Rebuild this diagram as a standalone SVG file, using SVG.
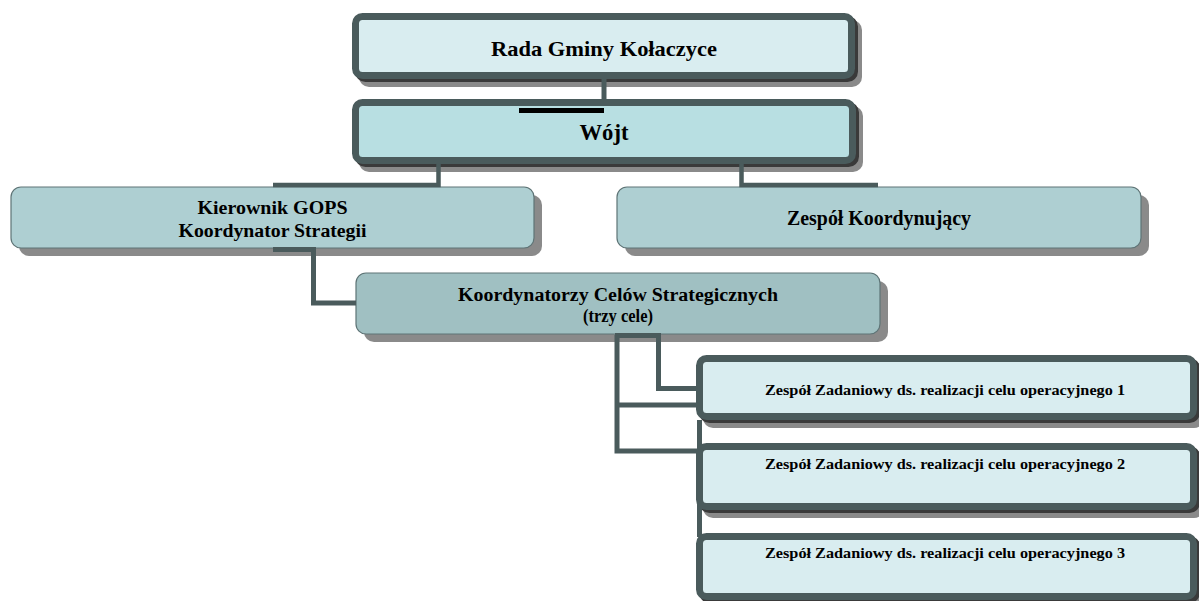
<svg xmlns="http://www.w3.org/2000/svg" width="1199" height="601" viewBox="0 0 1199 601">
<style>
text{font-family:"Liberation Serif","Times New Roman",serif;font-weight:bold;fill:#000;text-anchor:middle}
.thick{stroke:#4a5b5c;stroke-width:7}
.thin{stroke:#5e7476;stroke-width:1.2}
.sh{fill:#8a8a8a}
.shd{fill:none;stroke:#3a3a3a;stroke-width:7}
.c{fill:none;stroke:#4a5b5c;stroke-linejoin:miter}
</style>
<g id="node-rada">
<rect class="sh" x="359" y="20" width="503" height="67" rx="10"/>
<rect class="shd" x="358.5" y="19.5" width="496" height="59" rx="7"/>
<rect class="thick" x="355.5" y="16.5" width="496" height="59" rx="7" fill="#d9edf0"/>
<text x="604" y="56" font-size="21" textLength="226" lengthAdjust="spacingAndGlyphs">Rada Gminy Kołaczyce</text>
</g>
<g id="node-wojt">
<rect class="sh" x="359" y="106" width="504" height="66" rx="10"/>
<rect class="shd" x="358.5" y="105.5" width="497" height="58" rx="7"/>
<rect class="thick" x="355.5" y="102.5" width="497" height="58" rx="7" fill="#b8dfe2"/>
<text x="604" y="140" font-size="23" textLength="49" lengthAdjust="spacingAndGlyphs">Wójt</text>
</g>
<g id="node-kierownik">
<rect class="sh" x="19" y="195" width="523" height="61" rx="10"/>
<rect class="thin" x="11" y="187" width="523" height="61" rx="10" fill="#aecfd2"/>
<text x="272.5" y="214" font-size="18" textLength="150" lengthAdjust="spacingAndGlyphs">Kierownik GOPS</text>
<text x="272.5" y="237" font-size="18" textLength="188" lengthAdjust="spacingAndGlyphs">Koordynator Strategii</text>
</g>
<g id="node-zespol-koord">
<rect class="sh" x="625" y="195" width="524" height="61" rx="10"/>
<rect class="thin" x="617" y="187" width="524" height="61" rx="10" fill="#aecfd2"/>
<text x="879" y="225" font-size="20" textLength="184" lengthAdjust="spacingAndGlyphs">Zespół Koordynujący</text>
</g>
<g id="node-koordynatorzy">
<rect class="sh" x="364" y="281" width="524" height="61" rx="10"/>
<rect class="thin" x="356" y="273" width="524" height="61" rx="10" fill="#a0c0c2"/>
<text x="618" y="301" font-size="18" textLength="320" lengthAdjust="spacingAndGlyphs">Koordynatorzy Celów Strategicznych</text>
<text x="618" y="322" font-size="18" textLength="70" lengthAdjust="spacingAndGlyphs">(trzy cele)</text>
</g>
<g id="node-zespol-1">
<rect class="sh" x="703" y="362" width="501" height="66" rx="10"/>
<rect class="shd" x="702.5" y="361.5" width="494" height="58" rx="7"/>
<rect class="thick" x="699.5" y="358.5" width="494" height="58" rx="7" fill="#d9edf0"/>
<text x="945" y="395" font-size="15" textLength="360" lengthAdjust="spacingAndGlyphs">Zespół Zadaniowy ds. realizacji celu operacyjnego 1</text>
</g>
<g id="node-zespol-2">
<rect class="sh" x="703" y="450" width="501" height="68" rx="10"/>
<rect class="shd" x="702.5" y="449.5" width="494" height="60" rx="7"/>
<rect class="thick" x="699.5" y="446.5" width="494" height="60" rx="7" fill="#d9edf0"/>
<text x="945" y="469" font-size="15" textLength="360" lengthAdjust="spacingAndGlyphs">Zespół Zadaniowy ds. realizacji celu operacyjnego 2</text>
</g>
<g id="node-zespol-3">
<rect class="sh" x="703" y="540" width="501" height="68" rx="10"/>
<rect class="shd" x="702.5" y="539.5" width="494" height="60" rx="7"/>
<rect class="thick" x="699.5" y="536.5" width="494" height="60" rx="7" fill="#d9edf0"/>
<text x="945" y="558" font-size="15" textLength="360" lengthAdjust="spacingAndGlyphs">Zespół Zadaniowy ds. realizacji celu operacyjnego 3</text>
</g>
<g id="connectors">
<path class="c" d="M604 79 V99" stroke-width="5"/>
<path d="M519 110.5 H604" stroke="#000" stroke-width="5" fill="none"/>
<path class="c" d="M438.5 163 V185 H273" stroke-width="4.5"/>
<path class="c" d="M741.5 163 V185 H878" stroke-width="4.5"/>
<path class="c" d="M273 249.5 H313.5 V303 H356" stroke-width="5"/>
<path class="c" d="M617 335 V451 H699" stroke-width="5"/>
<path class="c" d="M615 335.5 H658.5 V388.5 H699" stroke-width="5"/>
<path class="c" d="M617 405 H699" stroke-width="5"/>
<path class="c" d="M699.5 420 V537" stroke-width="5"/>
</g>
</svg>
